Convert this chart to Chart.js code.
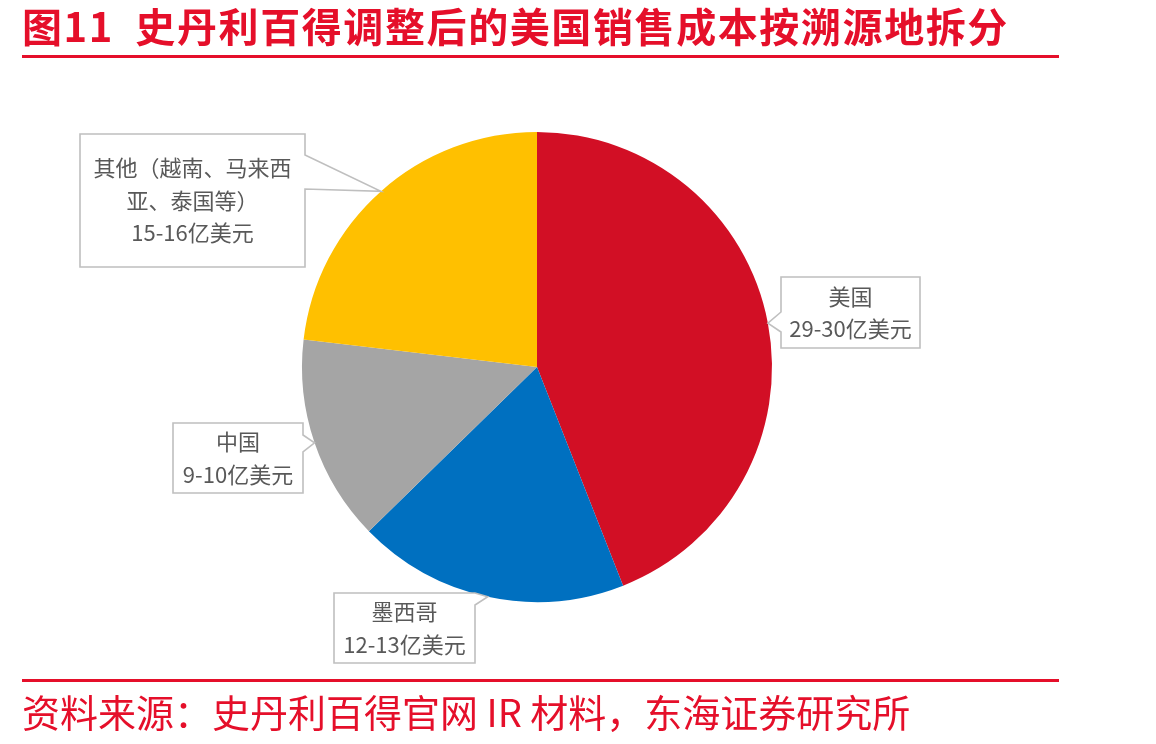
<!DOCTYPE html>
<html>
<head>
<meta charset="utf-8">
<script src="https://cdn.jsdelivr.net/npm/chart.js@4"></script>
<style>
  html, body { margin:0; padding:0; background:#ffffff; }
  body { width:1156px; height:744px; position:relative; overflow:hidden; font-family:"Noto Sans CJK SC","Noto Sans",sans-serif; }
  #wrap { position:absolute; left:0; top:0; width:1156px; height:744px; }
  #title { position:absolute; left:22px; top:0px; height:50px; line-height:50px; font-size:40px; font-weight:bold; color:#E50F2A; white-space:pre; letter-spacing:1.6px; }
  .rule { position:absolute; left:22px; width:1037px; height:3px; background:#E50F2A; }
  #source { position:absolute; left:22px; top:688px; height:46px; line-height:46px; font-size:38px; color:#E50F2A; white-space:pre; }
</style>
</head>
<body>
<div id="wrap"><canvas id="c"></canvas></div>
<div id="title">图11  史丹利百得调整后的美国销售成本按溯源地拆分</div>
<div class="rule" style="top:55px"></div>
<div class="rule" style="top:679px"></div>
<div id="source">资料来源：史丹利百得官网 IR 材料，东海证券研究所</div>
<script>
// ---- data ----
const categories = ["美国", "墨西哥", "中国", "其他"];
const values = [29.5, 12.5, 9.5, 15.5];           // midpoints of ranges (亿美元)
const rangeLabels = ["29-30亿美元", "12-13亿美元", "9-10亿美元", "15-16亿美元"];
const nameLines = [["美国"], ["墨西哥"], ["中国"], ["其他（越南、马来西", "亚、泰国等）"]];
const colors = ["#D20F25", "#0070C0", "#A5A5A5", "#FFC000"];

// ---- callout layout (boxes; pointer tip comes from the arc) ----
const callouts = [
  { x:781, y:277, w:139, h:71,  side:"left",  b1:312, b2:332 },
  { x:334, y:593, w:141, h:70,  side:"right", b1:593, b2:605 },
  { x:173, y:423, w:130, h:70,  side:"right", b1:435, b2:452 },
  { x:80,  y:134, w:225, h:133, side:"right", b1:155, b2:189 }
];

const calloutPlugin = {
  id: "callouts",
  afterDatasetsDraw(chart) {
    const ctx = chart.ctx;
    const meta = chart.getDatasetMeta(0);
    meta.data.forEach((arc, i) => {
      const p = arc.getProps(["x","y","startAngle","endAngle","outerRadius"], true);
      const mid = (p.startAngle + p.endAngle) / 2;
      const tx = p.x + Math.cos(mid) * p.outerRadius;
      const ty = p.y + Math.sin(mid) * p.outerRadius;
      const b = callouts[i];
      ctx.save();
      ctx.beginPath();
      if (b.side === "right") {
        ctx.moveTo(b.x, b.y);
        ctx.lineTo(b.x + b.w, b.y);
        ctx.lineTo(b.x + b.w, b.b1);
        ctx.lineTo(tx, ty);
        ctx.lineTo(b.x + b.w, b.b2);
        ctx.lineTo(b.x + b.w, b.y + b.h);
        ctx.lineTo(b.x, b.y + b.h);
      } else {
        ctx.moveTo(b.x, b.y);
        ctx.lineTo(b.x + b.w, b.y);
        ctx.lineTo(b.x + b.w, b.y + b.h);
        ctx.lineTo(b.x, b.y + b.h);
        ctx.lineTo(b.x, b.b2);
        ctx.lineTo(tx, ty);
        ctx.lineTo(b.x, b.b1);
      }
      ctx.closePath();
      ctx.fillStyle = "#ffffff";
      ctx.fill();
      ctx.strokeStyle = "#BFBFBF";
      ctx.lineWidth = 1.6;
      ctx.lineJoin = "miter";
      ctx.stroke();
      const lines = nameLines[i].concat([rangeLabels[i]]);
      const lh = 32.5;
      const cx = b.x + b.w / 2;
      const cy = b.y + b.h / 2;
      ctx.fillStyle = "#595959";
      ctx.font = '22px "Noto Sans CJK SC", sans-serif';
      ctx.textAlign = "center";
      ctx.textBaseline = "middle";
      lines.forEach((t, k) => {
        ctx.fillText(t, cx, cy + (k - (lines.length - 1) / 2) * lh);
      });
      ctx.restore();
    });
  }
};

new Chart(document.getElementById("c"), {
  type: "pie",
  data: {
    labels: categories,
    datasets: [{
      data: values,
      backgroundColor: colors,
      borderWidth: 0,
      hoverOffset: 0
    }]
  },
  options: {
    responsive: true,
    maintainAspectRatio: false,
    animation: false,
    layout: { padding: { left:302, right:384, top:132, bottom:142 } },
    plugins: { legend: { display:false }, tooltip: { enabled:false } },
    events: []
  },
  plugins: [calloutPlugin]
});
</script>
</body>
</html>
